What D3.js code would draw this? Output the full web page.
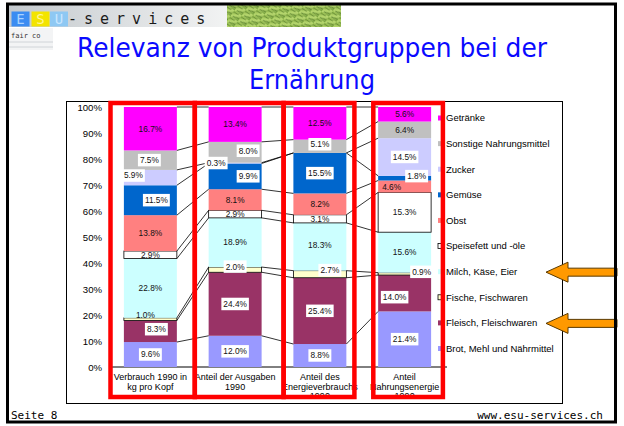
<!DOCTYPE html>
<html>
<head>
<meta charset="utf-8">
<script src="https://cdn.jsdelivr.net/npm/d3@7"></script>
<style>
  body { margin: 0; background: #fff; }
  svg { display: block; }
</style>
</head>
<body>
<svg width="624" height="426"></svg>
<script>
// chart data (shares in %, bottom to top of each bar)
const categories = [
  ["Verbrauch 1990 in", "kg pro Kopf"],
  ["Anteil der Ausgaben", "1990"],
  ["Anteil des", "Energieverbrauchs", "1990"],
  ["Anteil", "Nahrungsenergie", "1990"]
];
const seriesNames = ["Brot, Mehl und Nährmittel", "Fleisch, Fleischwaren", "Fische, Fischwaren",
  "Milch, Käse, Eier", "Speisefett und -öle", "Obst", "Gemüse", "Zucker",
  "Sonstige Nahrungsmittel", "Getränke"];
const brot      = [9.6, 12.0, 8.8, 21.4];
const fleisch   = [8.3, 24.4, 25.4, 14.0];
const fische    = [1.0, 2.0, 2.7, 0.9];
const milch     = [22.8, 18.9, 18.3, 15.6];
const speisefett= [2.9, 2.9, 3.1, 15.3];
const obst      = [13.8, 8.1, 8.2, 4.6];
const gemuese   = [11.5, 9.9, 15.5, 1.8];
const zucker    = [5.9, 0.3, 0, 14.5];
const sonstige  = [7.5, 8.0, 5.1, 6.4];
const getraenke = [16.7, 13.4, 12.5, 5.6];
const yTicks = [0, 0.1, 0.2, 0.3, 0.4, 0.5, 0.6, 0.7, 0.8, 0.9, 1];

const seriesValues = [brot, fleisch, fische, milch, speisefett, obst, gemuese, zucker, sonstige, getraenke];
const colors = ["#9999ff", "#993366", "#ffffcc", "#ccffff", "#ffffff", "#ff8080", "#0066cc", "#ccccff", "#c0c0c0", "#ff00ff"];
const outlined = new Set(["Fische, Fischwaren", "Speisefett und -öle"]);

// labels that were dragged by hand in the original (dx, dy in px)
const labelNudge = {
  "1|0": [6, -2], "2|0": [-5, -4], "6|0": [6, 0], "7|0": [-17, -2], "8|0": [-1, 0],
  "2|1": [0, -3], "6|1": [13, 0], "7|1": [-19, 0], "8|1": [13, -1.5],
  "2|2": [10, -4], "3|2": [0, -1.5], "8|2": [0, -2],
  "1|3": [-10, 4], "2|3": [17, -2], "5|3": [-13, 1], "6|3": [12, -2]
};
// labels drawn without the white box
const noBox = new Set();
["3", "4", "5", "9"].forEach(s => [0, 1, 2, 3].forEach(c => noBox.add(s + "|" + c)));
noBox.add("2|0"); noBox.add("8|3");

const svg = d3.select("svg");
const font = "'Liberation Sans', Arial, sans-serif";

// ---------- slide header ----------
const defs = svg.append("defs");
const g1 = defs.append("linearGradient").attr("id", "band");
g1.append("stop").attr("offset", "0").attr("stop-color", "#c4c9cd");
g1.append("stop").attr("offset", "1").attr("stop-color", "#f2f3f3");
const g2 = defs.append("linearGradient").attr("id", "leaf").attr("x2", "1").attr("y2", "1");
g2.append("stop").attr("offset", "0").attr("stop-color", "#8fb848");
g2.append("stop").attr("offset", "0.5").attr("stop-color", "#b8d870");
g2.append("stop").attr("offset", "1").attr("stop-color", "#6f9a38");
const pat = defs.append("pattern").attr("id", "leafTex").attr("width", 9).attr("height", 7)
  .attr("patternUnits", "userSpaceOnUse").attr("patternTransform", "rotate(35)");
pat.append("rect").attr("width", 9).attr("height", 7).attr("fill", "url(#leaf)");
pat.append("path").attr("d", "M0 2 L6 1 M2 6 L9 4").attr("stroke", "#4d7424").attr("stroke-width", 1.2).attr("opacity", 0.7);

svg.append("rect").attr("x", 9).attr("y", 5).attr("width", 220).attr("height", 22).attr("fill", "url(#band)");
svg.append("rect").attr("x", 227).attr("y", 5).attr("width", 114).attr("height", 22).attr("fill", "url(#leafTex)");
const blocks = [["E", "#3b8cf2", "#a9d3ff", 11.5], ["S", "#f3e400", "#fff59a", 31.5], ["U", "#8ec8f3", "#c8e6ff", 50]];
blocks.forEach(b => {
  svg.append("rect").attr("x", b[3]).attr("y", 11.5).attr("width", 18).attr("height", 15).attr("fill", b[1]);
  svg.append("text").attr("x", b[3] + 9).attr("y", 24).attr("text-anchor", "middle")
    .attr("font-family", "'DejaVu Sans Mono', monospace").attr("font-size", 14).attr("fill", b[2]).text(b[0]);
});
svg.append("text").attr("x", 68).attr("y", 24)
  .attr("font-family", "'DejaVu Sans Mono', monospace").attr("font-size", 15)
  .attr("letter-spacing", 7).attr("fill", "#1a1a1a").text("-services");
svg.append("rect").attr("x", 9).attr("y", 28).attr("width", 44).attr("height", 22).attr("fill", "#f3f4f5");
[42, 47].forEach(y => svg.append("line").attr("x1", 9).attr("x2", 53).attr("y1", y).attr("y2", y)
  .attr("stroke", "#d0d4d8").attr("stroke-width", 1));
svg.append("text").attr("x", 11).attr("y", 38)
  .attr("font-family", "'DejaVu Sans Mono', monospace").attr("font-size", 7).attr("fill", "#333").text("fair co");

// title
const titleFont = "'DejaVu Sans', Verdana, sans-serif";
svg.append("text").attr("x", 312).attr("y", 57).attr("text-anchor", "middle")
  .attr("font-family", titleFont).attr("font-size", 27).attr("fill", "#0a0aff")
  .attr("textLength", 470).attr("lengthAdjust", "spacingAndGlyphs")
  .text("Relevanz von Produktgruppen bei der");
svg.append("text").attr("x", 312).attr("y", 89).attr("text-anchor", "middle")
  .attr("font-family", titleFont).attr("font-size", 27).attr("fill", "#0a0aff")
  .attr("textLength", 126).attr("lengthAdjust", "spacingAndGlyphs")
  .text("Ernährung");

// ---------- chart ----------
svg.append("rect").attr("x", 66.5).attr("y", 101.5).attr("width", 496).attr("height", 302)
  .attr("fill", "#fff").attr("stroke", "#000").attr("stroke-width", 1);

const table = categories.map((c, i) => {
  const row = { cat: i };
  seriesNames.forEach((s, k) => row[s] = seriesValues[k][i]);
  return row;
});
const stack = d3.stack().keys(seriesNames).offset(d3.stackOffsetExpand)(table);

const x = d3.scaleBand().domain(d3.range(categories.length)).range([108, 447])
  .paddingInner(0.375).paddingOuter(0.1875);
const y = d3.scaleLinear().domain([0, 1]).range([367, 107]);
const bw = x.bandwidth();

// y axis
const yAxis = svg.append("g").attr("transform", "translate(110,0)")
  .call(d3.axisLeft(y).tickValues(yTicks).tickFormat(d3.format(".0%")).tickSize(0).tickPadding(8));
yAxis.select(".domain").attr("stroke", "#000");
yAxis.selectAll("text").attr("font-family", font).attr("font-size", 9.6).attr("fill", "#000");
// category axis line
svg.append("line").attr("x1", 110).attr("x2", 447).attr("y1", y(0)).attr("y2", y(0)).attr("stroke", "#000");

// bars
const layers = svg.append("g").selectAll("g").data(stack).join("g")
  .attr("fill", (d, k) => colors[k])
  .attr("stroke", d => outlined.has(d.key) ? "#000" : "none")
  .attr("stroke-width", 0.8);
layers.selectAll("rect").data(d => d).join("rect")
  .attr("x", (d, i) => x(i)).attr("width", bw)
  .attr("y", d => y(d[1])).attr("height", d => y(d[0]) - y(d[1]));

// series lines
const lines = [];
stack.forEach(layer => {
  for (let i = 0; i < layer.length - 1; i++) {
    lines.push({ x1: x(i) + bw, y1: y(layer[i][1]), x2: x(i + 1), y2: y(layer[i + 1][1]) });
  }
});
svg.append("g").selectAll("line").data(lines).join("line")
  .attr("x1", d => d.x1).attr("y1", d => d.y1).attr("x2", d => d.x2).attr("y2", d => d.y2)
  .attr("stroke", "#000").attr("stroke-width", 0.8);

// data labels
const labelData = [];
stack.forEach((layer, k) => layer.forEach((d, i) => {
  const v = seriesValues[k][i];
  if (!v) return;
  const key = k + "|" + i;
  const n = labelNudge[key] || [0, 0];
  labelData.push({ text: d3.format(".1f")(v) + "%", cx: x(i) + bw / 2 + n[0], cy: y((d[0] + d[1]) / 2) + n[1], box: !noBox.has(key) });
}));
const lg = svg.append("g").selectAll("g").data(labelData).join("g");
lg.append("text").attr("x", d => d.cx).attr("y", d => d.cy).attr("dy", "0.35em")
  .attr("text-anchor", "middle").attr("font-family", font).attr("font-size", 8.3).attr("fill", "#111")
  .text(d => d.text);
lg.each(function(d) {
  if (!d.box) return;
  const t = d3.select(this).select("text");
  const w = t.node().getComputedTextLength() + 4;
  d3.select(this).insert("rect", "text").attr("x", d.cx - w / 2).attr("y", d.cy - 6.3)
    .attr("width", w).attr("height", 12.5).attr("fill", "#fff");
});

// category labels
categories.forEach((lines, i) => {
  const t = svg.append("text").attr("text-anchor", "middle").attr("font-family", font)
    .attr("font-size", 9).attr("fill", "#000");
  lines.forEach((s, j) => t.append("tspan").attr("x", x(i) + bw / 2).attr("y", 380 + j * 9.6).text(s));
});

// legend
const legendRow = d3.scalePoint().domain(seriesNames.slice().reverse()).range([118, 348.5]);
const leg = svg.append("g").selectAll("g").data(seriesNames).join("g")
  .attr("transform", d => `translate(438,${legendRow(d)})`);
leg.append("rect").attr("x", 0).attr("y", -2.5).attr("width", 5).attr("height", 5)
  .attr("fill", (d, k) => colors[k])
  .attr("stroke", d => outlined.has(d) ? "#000" : "none").attr("stroke-width", 0.8);
leg.append("text").attr("x", 8).attr("dy", "0.35em").attr("font-family", font)
  .attr("font-size", 9.5).attr("fill", "#000").text(d => d);

// ---------- annotations ----------
const frames = [[110.5, 194.8], [194.8, 283.6], [283.6, 354.4], [373.3, 442.9]];
svg.append("g").selectAll("rect").data(frames).join("rect")
  .attr("x", d => d[0]).attr("width", d => d[1] - d[0])
  .attr("y", 103).attr("height", 294)
  .attr("fill", "none").attr("stroke", "#ff0000").attr("stroke-width", 4.5);

["Milch, Käse, Eier", "Fleisch, Fleischwaren"].forEach(s => {
  const yc = legendRow(s) + 0.5;
  const pts = [[546, yc], [568, yc - 10], [568, yc - 4], [617, yc - 4], [617, yc + 4], [568, yc + 4], [568, yc + 10]];
  svg.append("polygon").attr("points", pts.map(p => p.join(",")).join(" "))
    .attr("fill", "#ff9900").attr("stroke", "#5a3a00").attr("stroke-width", 1);
});

// slide frame and footer
svg.append("rect").attr("x", 7.5).attr("y", 4).attr("width", 608).attr("height", 418)
  .attr("fill", "none").attr("stroke", "#000").attr("stroke-width", 3);
svg.append("text").attr("x", 11).attr("y", 419).attr("font-family", "'DejaVu Sans Mono', monospace")
  .attr("font-size", 11).attr("fill", "#000").text("Seite 8");
svg.append("text").attr("x", 603).attr("y", 419).attr("text-anchor", "end")
  .attr("font-family", "'DejaVu Sans Mono', monospace").attr("font-size", 11).attr("fill", "#000")
  .text("www.esu-services.ch");
</script>
</body>
</html>
